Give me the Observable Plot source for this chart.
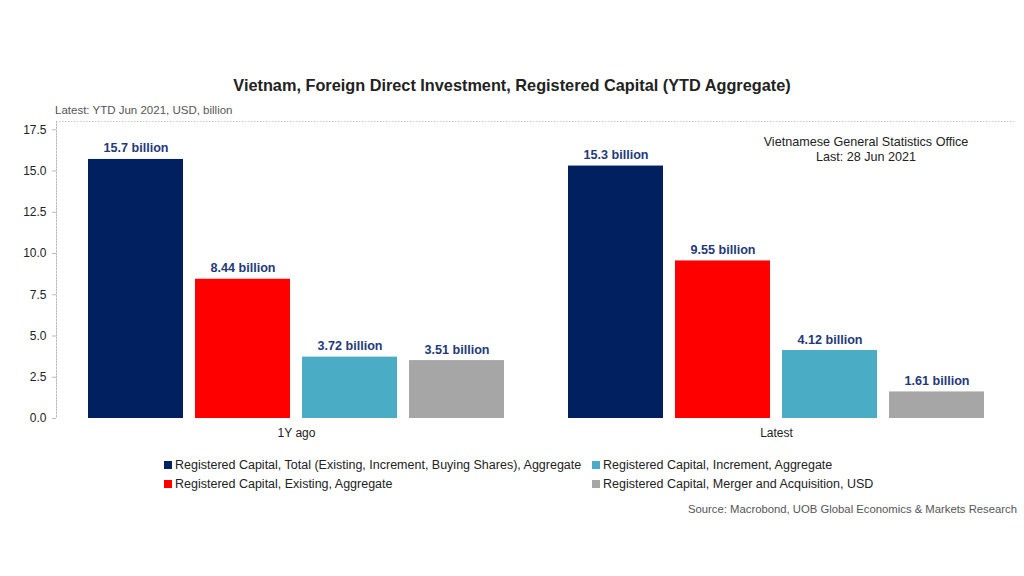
<!DOCTYPE html>
<html>
<head>
<meta charset="utf-8">
<script src="https://cdn.jsdelivr.net/npm/d3@7"></script>
<script src="https://cdn.jsdelivr.net/npm/@observablehq/plot@0.6"></script>
<style>
  html, body { margin: 0; padding: 0; background: #fff; }
  body { width: 1024px; height: 576px; position: relative; overflow: hidden; font-family: "Liberation Sans", Arial, sans-serif; }
  #title { position: absolute; top: 76px; left: 0; width: 1024px; text-align: center; font-weight: bold; font-size: 16.3px; color: #222; }
  #subtitle { position: absolute; top: 104px; left: 55px; font-size: 11.5px; color: #555; }
  #chart { position: absolute; top: 0; left: 0; }
  #note { position: absolute; top: 135px; left: 716px; width: 300px; text-align: center; font-size: 12.6px; color: #222; line-height: 15px; }
  #legend { position: absolute; top: 455px; left: 164px; display: grid; grid-template-rows: 19px 19px; grid-auto-flow: column; grid-template-columns: 428px auto; font-size: 12.5px; color: #222; }
  .item { display: flex; align-items: center; white-space: nowrap; }
  .sw { width: 8px; height: 8px; margin-right: 3px; display: inline-block; }
  #source { position: absolute; top: 503px; right: 7px; font-size: 11.3px; color: #555; }
</style>
</head>
<body>
<div id="title"></div>
<div id="subtitle"></div>
<div id="chart"></div>
<div id="note"></div>
<div id="legend"></div>
<div id="source"></div>
<script>
const titleText = "Vietnam, Foreign Direct Investment, Registered Capital (YTD Aggregate)";
const subtitleText = "Latest: YTD Jun 2021, USD, billion";
const noteLines = ["Vietnamese General Statistics Office", "Last: 28 Jun 2021"];
const sourceText = "Source: Macrobond, UOB Global Economics & Markets Research";

const periods = ["1Y ago", "Latest"];
const series = [
  "Registered Capital, Total (Existing, Increment, Buying Shares), Aggregate",
  "Registered Capital, Existing, Aggregate",
  "Registered Capital, Increment, Aggregate",
  "Registered Capital, Merger and Acquisition, USD"
];
const valuesYearAgo = [15.7, 8.44, 3.72, 3.51];
const valuesLatest = [15.3, 9.55, 4.12, 1.61];
const seriesColors = ["#002060", "#ff0000", "#4bacc6", "#a6a6a6"];
const yTicks = [0, 2.5, 5, 7.5, 10, 12.5, 15, 17.5];

document.getElementById("title").textContent = titleText;
document.getElementById("subtitle").textContent = subtitleText;
document.getElementById("note").innerHTML = noteLines.join("<br>");
document.getElementById("source").textContent = sourceText;

const data = [];
[valuesYearAgo, valuesLatest].forEach((vals, p) => {
  vals.forEach((v, i) => data.push({period: periods[p], series: series[i], value: v, label: `${v} billion`}));
});

const plot = Plot.plot({
  width: 1024,
  height: 445,
  marginTop: 121,
  marginBottom: 27,
  marginLeft: 56,
  marginRight: 8,
  style: {fontFamily: "Liberation Sans, Arial, sans-serif", fontSize: "12px", color: "#222", background: "transparent"},
  fx: {domain: periods, padding: 0, label: null, axis: null},
  x: {domain: series, paddingInner: 0.111, paddingOuter: 0.278, axis: null},
  y: {domain: [0, 18], axis: null},
  color: {domain: series, range: seriesColors},
  marks: [
    Plot.ruleY([18], {stroke: "#c8c8c8", strokeDasharray: "1.5,1.5"}),
    Plot.frame({anchor: "left", facetAnchor: "left", stroke: "#bbb", strokeDasharray: "1.5,1.5"}),
    Plot.axisY({ticks: yTicks, tickFormat: d3.format(".1f"), tickSize: 4, tickPadding: 6, stroke: "#bbb", fill: "#222", label: null}),
    Plot.axisFx({anchor: "bottom", tickSize: 0, tickPadding: 10, label: null, fill: "#222", fontSize: 12}),
    Plot.barY(data, {fx: "period", x: "series", y: "value", fill: "series"}),
    Plot.text(data, {fx: "period", x: "series", y: "value", text: "label", dy: -11, fill: "#1f3a7a", fontWeight: "bold", fontSize: 12.6})
  ]
});
document.getElementById("chart").appendChild(plot);

const legend = document.getElementById("legend");
series.forEach((s, i) => {
  const item = document.createElement("div");
  item.className = "item";
  const sw = document.createElement("span");
  sw.className = "sw";
  sw.style.background = seriesColors[i];
  item.appendChild(sw);
  item.appendChild(document.createTextNode(s));
  legend.appendChild(item);
});
</script>
</body>
</html>
